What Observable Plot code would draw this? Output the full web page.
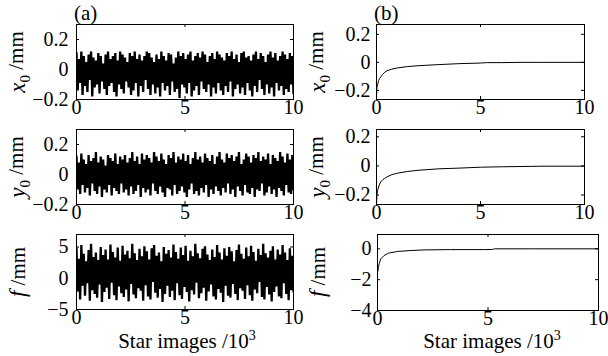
<!DOCTYPE html>
<html><head><meta charset="utf-8">
<script src="https://cdn.jsdelivr.net/npm/d3@7"></script>
<script src="https://cdn.jsdelivr.net/npm/@observablehq/plot@0.6"></script>
<style>
html,body{margin:0;padding:0;background:#fff;}
#wrap{position:relative;width:608px;height:356px;overflow:hidden;background:#fff;}
#wrap svg{position:absolute;left:0;top:0;}
</style></head>
<body><div id="wrap"></div>
<script>
// ---- data (x in 10^3 star images) ----
const xTicks = [0, 5, 10];
const yTicksA1 = [-0.2, 0, 0.2];
const yTicksA2 = [-0.2, 0, 0.2];
const yTicksA3 = [-5, 0, 5];
const yTicksB1 = [-0.2, 0, 0.2];
const yTicksB2 = [-0.2, 0, 0.2];
const yTicksB3 = [-4, -2, 0];

// (a) noise: alternating upper spikes / lower spikes
const x0Upper = [0.11,0.07,0.12,0.09,0.05,0.10,0.12,0.08,0.06,0.11,0.09,0.04,0.10,0.12,0.07,0.09,0.11,0.06,0.12,0.10,0.08,0.05,0.11,0.09,0.12,0.07,0.10,0.06,0.09,0.12,0.11,0.08,0.05,0.10,0.07,0.12,0.09,0.06,0.11,0.10,0.04,0.08,0.12,0.09,0.11,0.07,0.10,0.12,0.06,0.09,0.11,0.08,0.12,0.10,0.05,0.09,0.11,0.07,0.12,0.10,0.08,0.06,0.11,0.09,0.12,0.07,0.10,0.05,0.11,0.12,0.08,0.09,0.06,0.10,0.12,0.07,0.11,0.09,0.05,0.10,0.12,0.08,0.11,0.06,0.09,0.12,0.10,0.07,0.11,0.09];
const x0Lower = [-0.14,-0.09,-0.17,-0.11,-0.15,-0.07,-0.18,-0.12,-0.10,-0.16,-0.08,-0.13,-0.17,-0.11,-0.09,-0.15,-0.18,-0.10,-0.13,-0.16,-0.08,-0.12,-0.17,-0.14,-0.09,-0.18,-0.11,-0.15,-0.07,-0.13,-0.17,-0.10,-0.16,-0.12,-0.18,-0.09,-0.14,-0.11,-0.17,-0.08,-0.15,-0.13,-0.19,-0.10,-0.12,-0.16,-0.09,-0.18,-0.14,-0.11,-0.17,-0.08,-0.13,-0.15,-0.10,-0.18,-0.12,-0.16,-0.09,-0.14,-0.17,-0.11,-0.15,-0.08,-0.18,-0.13,-0.10,-0.16,-0.12,-0.17,-0.09,-0.14,-0.18,-0.11,-0.15,-0.07,-0.13,-0.17,-0.10,-0.16,-0.12,-0.18,-0.09,-0.14,-0.11,-0.17,-0.13,-0.15,-0.10,-0.16];
const y0Upper = [0.12,0.08,0.14,0.10,0.07,0.13,0.09,0.11,0.15,0.08,0.12,0.10,0.06,0.13,0.11,0.09,0.14,0.07,0.12,0.10,0.13,0.08,0.11,0.15,0.09,0.12,0.07,0.14,0.10,0.13,0.11,0.08,0.15,0.12,0.09,0.14,0.10,0.07,0.13,0.11,0.15,0.08,0.12,0.10,0.14,0.09,0.13,0.07,0.11,0.15,0.10,0.12,0.08,0.14,0.11,0.09,0.13,0.07,0.12,0.15,0.10,0.08,0.14,0.11,0.13,0.09,0.12,0.15,0.07,0.10,0.14,0.12,0.08,0.13,0.11,0.15,0.09,0.12,0.10,0.14,0.07,0.13,0.11,0.09,0.15,0.12,0.08,0.14,0.10,0.13];
const y0Lower = [-0.10,-0.13,-0.07,-0.12,-0.09,-0.14,-0.06,-0.11,-0.13,-0.08,-0.15,-0.10,-0.12,-0.07,-0.14,-0.09,-0.11,-0.13,-0.06,-0.12,-0.10,-0.14,-0.08,-0.13,-0.11,-0.07,-0.15,-0.09,-0.12,-0.10,-0.14,-0.06,-0.11,-0.13,-0.08,-0.12,-0.15,-0.09,-0.10,-0.14,-0.07,-0.13,-0.11,-0.08,-0.12,-0.15,-0.10,-0.06,-0.13,-0.11,-0.14,-0.09,-0.12,-0.07,-0.15,-0.10,-0.13,-0.08,-0.11,-0.14,-0.09,-0.12,-0.06,-0.13,-0.10,-0.15,-0.08,-0.11,-0.14,-0.07,-0.12,-0.13,-0.09,-0.15,-0.10,-0.11,-0.06,-0.14,-0.12,-0.08,-0.13,-0.10,-0.15,-0.09,-0.11,-0.14,-0.07,-0.12,-0.13,-0.10];
const fUpper = [4.8,3.1,5.3,3.9,2.7,4.5,5.5,3.4,4.1,2.9,5.0,3.7,4.6,3.0,5.4,4.2,3.3,4.9,2.8,5.2,3.8,4.4,3.2,5.5,4.0,2.9,4.7,3.5,5.1,4.3,3.0,4.8,5.3,3.6,4.1,2.7,5.0,3.9,4.5,3.3,5.4,4.2,3.1,4.9,3.7,5.2,2.8,4.4,3.5,5.5,4.0,3.2,4.7,5.1,3.8,2.9,4.6,3.4,5.3,4.1,3.0,4.8,3.6,5.0,4.3,2.7,4.5,5.4,3.9,3.1,4.9,3.5,5.2,4.2,2.8,4.7,3.7,5.5,4.0,3.3,4.4,5.1,3.0,4.6,3.8,5.3,4.1,2.9,4.8,3.6];
const fLower = [-2.1,-3.4,-1.2,-2.8,-0.8,-3.6,-1.9,-2.5,-3.1,-1.0,-3.8,-2.2,-1.5,-3.3,-0.7,-2.7,-3.5,-1.3,-2.4,-3.0,-1.8,-3.7,-0.9,-2.6,-3.2,-1.6,-2.0,-3.6,-1.1,-2.9,-3.4,-0.6,-2.3,-3.1,-1.7,-3.8,-2.5,-1.2,-3.0,-2.0,-3.5,-0.8,-2.7,-3.3,-1.4,-2.2,-3.7,-1.9,-2.6,-0.7,-3.2,-2.4,-1.5,-3.6,-2.1,-1.0,-2.9,-3.4,-1.7,-2.3,-3.8,-1.2,-2.8,-3.1,-0.9,-2.5,-3.5,-1.6,-2.0,-3.3,-1.1,-2.7,-3.6,-1.8,-2.4,-0.6,-3.0,-3.4,-1.4,-2.6,-3.7,-2.2,-1.3,-2.9,-3.2,-0.8,-2.5,-3.5,-1.9,-2.1];

// (b) converging estimates
const bX0x = [0, 0.02, 0.05, 0.1, 0.15, 0.2, 0.3, 0.4, 0.5, 0.7, 1, 1.5, 2, 3, 4, 5, 5.3, 6, 7, 8, 10];
const bX0y = [-0.25, -0.18, -0.16, -0.13, -0.115, -0.105, -0.085, -0.07, -0.06, -0.05, -0.04, -0.03, -0.024, -0.016, -0.009, -0.005, -0.002, -0.002, 0, 0, 0];
const bY0x = [0, 0.02, 0.05, 0.1, 0.15, 0.2, 0.3, 0.4, 0.5, 0.7, 1, 1.5, 2, 3, 4, 5, 6, 7.5, 8, 10];
const bY0y = [-0.26, -0.2, -0.17, -0.145, -0.125, -0.11, -0.095, -0.085, -0.076, -0.062, -0.05, -0.038, -0.03, -0.02, -0.015, -0.009, -0.006, -0.003, -0.002, -0.002];
const bFx = [0.02, 0.04, 0.08, 0.15, 0.3, 0.5, 0.9, 1.5, 2.1, 3.3, 4.8, 5.2, 5.3, 7, 10];
const bFy = [-1.45, -1.2, -0.95, -0.65, -0.43, -0.28, -0.17, -0.11, -0.07, -0.05, -0.05, -0.04, 0, 0, 0];

// ---- helpers ----
const W = 608, H = 356;
const FONT = "'Liberation Serif', 'Times New Roman', serif";
const fmt = d => String(d).replace("-", "\u2212");

function zigzag(up, lo) {
  const n = Math.min(up.length, lo.length);
  const vals = [];
  for (let i = 0; i < n; i++) { vals.push(up[i]); vals.push(lo[i]); }
  return vals.map((v, k) => ({x: k * 10 / (vals.length - 1), y: v}));
}
function pairs(xs, ys) { return xs.map((x, i) => ({x, y: ys[i]})); }

function panel({box, yDomain, yTicks, data, pad, sw}) {
  const [l, r, t, b] = box;
  const w = r - l, h = b - t;
  return Plot.plot({
    width: W, height: H,
    marginLeft: l, marginRight: W - r, marginTop: t, marginBottom: H - b,
    x: {domain: [0, 10]}, y: {domain: yDomain},
    style: {fontFamily: FONT, fontSize: "20px", background: "transparent", overflow: "visible", color: "#000"},
    marks: [
      Plot.line(data, {x: "x", y: "y", stroke: "#000", strokeWidth: sw, strokeLinejoin: "miter", clip: true}),
      Plot.frame({stroke: "#000", strokeWidth: 1}),
      Plot.tickX(xTicks, {x: d => d, insetTop: h - 3, stroke: "#000"}),
      Plot.tickX(xTicks, {x: d => d, insetBottom: h - 3, stroke: "#000"}),
      Plot.tickY(yTicks, {y: d => d, insetLeft: w - 3, stroke: "#000"}),
      Plot.tickY(yTicks, {y: d => d, insetRight: w - 3, stroke: "#000"}),
      Plot.axisX({ticks: xTicks, tickSize: 0, tickPadding: 0, tickFormat: fmt, fontSize: 20, label: null}),
      Plot.axisY({ticks: yTicks, tickSize: 0, tickPadding: pad, tickFormat: fmt, fontSize: 20, label: null})
    ]
  });
}

const wrap = document.getElementById("wrap");
const panels = [
  {box: [76, 293, 24, 99], yDomain: [-0.2, 0.3], yTicks: yTicksA1, data: zigzag(x0Upper, x0Lower), pad: 8, sw: 2.3},
  {box: [76, 293, 129, 204], yDomain: [-0.2, 0.3], yTicks: yTicksA2, data: zigzag(y0Upper, y0Lower), pad: 8, sw: 2.3},
  {box: [76, 293, 234, 309], yDomain: [-5, 7], yTicks: yTicksA3, data: zigzag(fUpper, fLower), pad: 8, sw: 2.3},
  {box: [376, 584, 24, 99], yDomain: [-0.265, 0.27], yTicks: yTicksB1, data: pairs(bX0x, bX0y), pad: 6, sw: 1},
  {box: [376, 584, 129, 204], yDomain: [-0.265, 0.25], yTicks: yTicksB2, data: pairs(bY0x, bY0y), pad: 6, sw: 1},
  {box: [377, 598, 234, 310], yDomain: [-4, 0.93], yTicks: yTicksB3, data: pairs(bFx, bFy), pad: 6, sw: 1}
];
for (const p of panels) wrap.appendChild(panel(p));

// ---- labels overlay ----
const svg = d3.select(wrap).append("svg").attr("width", W).attr("height", H)
  .style("font-family", FONT).style("font-size", "21px");

function ylab(x, y, sym, sub) {
  const t = svg.append("text").attr("transform", `translate(${x},${y}) rotate(-90)`)
    .attr("text-anchor", "middle");
  t.append("tspan").attr("font-style", "italic").attr("font-size", 23).text(sym);
  if (sub) {
    t.append("tspan").attr("font-size", 15).attr("dy", "0.3em").text(sub);
    t.append("tspan").attr("dy", "-0.3em").text(" /mm");
  } else {
    t.append("tspan").text(" /mm");
  }
}
ylab(25, 62, "x", "0");
ylab(25, 167, "y", "0");
ylab(25, 272, "f", null);
ylab(325, 62, "x", "0");
ylab(325, 167, "y", "0");
ylab(325, 272, "f", null);

svg.append("text").attr("x", 74).attr("y", 20).text("(a)");
svg.append("text").attr("x", 374).attr("y", 20).text("(b)");

function xlab(cx) {
  const t = svg.append("text").attr("x", cx).attr("y", 348).attr("text-anchor", "middle");
  t.append("tspan").text("Star images /10");
  t.append("tspan").attr("font-size", 14).attr("dy", "-0.55em").text("3");
}
xlab(187);
xlab(492);
</script>
</body></html>
